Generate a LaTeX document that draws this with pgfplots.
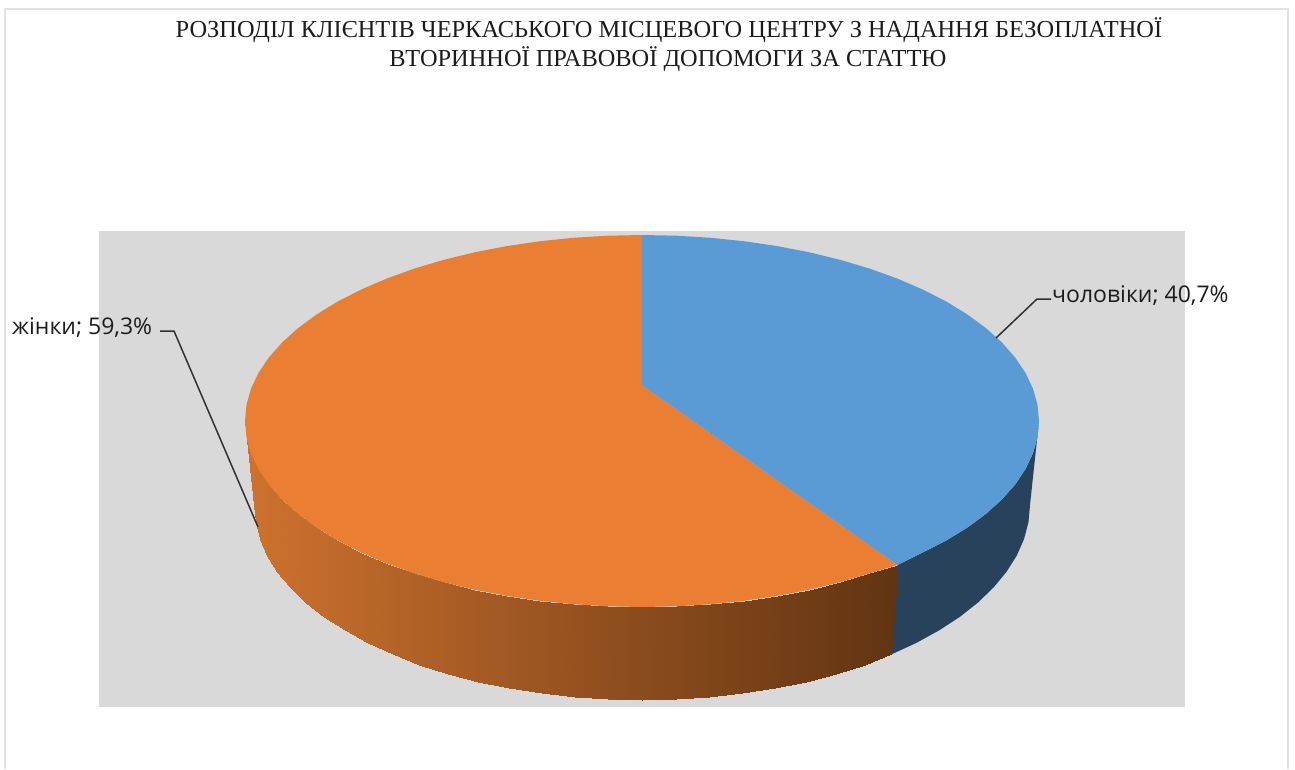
\documentclass[border=0pt]{standalone}
\usepackage{fontspec}
\setmainfont{Liberation Serif}
\newfontfamily\labelfont{Open Sans}
\usepackage{pgfplots}
\pgfplotsset{compat=1.18}
\definecolor{panel}{HTML}{D9D9D9}
\definecolor{blueTop}{HTML}{5B9BD5}
\definecolor{blueSide}{HTML}{27425A}
\definecolor{orangeTop}{HTML}{EA7F33}
\definecolor{frameGrey}{HTML}{E2E2E2}
\definecolor{leader}{HTML}{303030}
\definecolor{ink}{HTML}{1C1C1C}
\begin{document}
\begin{tikzpicture}
\path[use as bounding box] (0,0) rectangle (1295pt,769pt);
\begin{axis}[
	at={(0,0)}, anchor=south west,
	scale only axis,
	width=1295pt, height=769pt,
	xmin=0, xmax=1295,
	ymin=0, ymax=769,
	y dir=reverse,
	hide axis,
	clip=false,
	colormap={sideorange}{rgb255=(206,114,46); rgb255=(150,82,32); rgb255=(97,52,18)},
]
% frame and grey panel
\addplot[draw=frameGrey, line width=2pt] coordinates {(5,769) (5,9) (1288,9) (1288,769)};
\addplot[fill=panel, draw=none] coordinates {(99,231) (1185,231) (1185,707) (99,707)} --cycle;

% blue side wall
\addplot[fill=blueSide, draw=none] coordinates {
	(1039,421) (1037.5,437.2) (1033,453.3) (1025.5,469.1) (1015.1,484.6) (1001.8,499.6)
	(985.8,514) (967.2,527.7) (946.1,540.6) (922.7,552.5) (897.5,565)
	(891.4,654.4) (916.4,642.9) (939.2,630.3) (959.8,616.9) (978,602.5) (993.6,587.4)
	(1006.6,571.7) (1016.8,555.5) (1024.1,538.9) (1028.5,522) (1030,505)
} --cycle;

% orange side wall, one patch per 5 degrees
\addplot[patch, patch type=rectangle, shader=interp, point meta=x, point meta min=245, point meta max=897] coordinates {
	(245,421) (246.5,437.2) (255.5,522) (254,505)
	(246.5,437.2) (251,453.3) (259.9,538.9) (255.5,522)
	(251,453.3) (258.5,469.1) (267.2,555.5) (259.9,538.9)
	(258.5,469.1) (268.9,484.6) (277.4,571.7) (267.2,555.5)
	(268.9,484.6) (282.2,499.6) (290.4,587.4) (277.4,571.7)
	(282.2,499.6) (298.2,514) (306,602.5) (290.4,587.4)
	(298.2,514) (316.8,527.7) (324.2,616.9) (306,602.5)
	(316.8,527.7) (337.9,540.6) (344.8,630.3) (324.2,616.9)
	(337.9,540.6) (361.3,552.5) (367.6,642.9) (344.8,630.3)
	(361.3,552.5) (386.8,563.5) (392.6,654.4) (367.6,642.9)
	(386.8,563.5) (414.3,573.4) (419.4,664.7) (392.6,654.4)
	(414.3,573.4) (443.5,582.1) (448,673.9) (419.4,664.7)
	(443.5,582.1) (474.2,589.6) (478,681.7) (448,673.9)
	(474.2,589.6) (506.2,595.8) (509.3,688.2) (478,681.7)
	(506.2,595.8) (539.3,600.7) (541.6,693.4) (509.3,688.2)
	(539.3,600.7) (573.1,604.2) (574.6,697) (541.6,693.4)
	(573.1,604.2) (607.4,606.3) (608.2,699.3) (574.6,697)
	(607.4,606.3) (642,607) (642,700) (608.2,699.3)
	(642,607) (676.6,606.3) (675.8,699.3) (642,700)
	(676.6,606.3) (710.9,604.2) (709.4,697) (675.8,699.3)
	(710.9,604.2) (744.7,600.7) (742.4,693.4) (709.4,697)
	(744.7,600.7) (777.8,595.8) (774.7,688.2) (742.4,693.4)
	(777.8,595.8) (809.8,589.6) (806,681.7) (774.7,688.2)
	(809.8,589.6) (840.5,582.1) (836,673.9) (806,681.7)
	(840.5,582.1) (869.7,573.4) (864.6,664.7) (836,673.9)
	(869.7,573.4) (897.5,565) (891.4,654.4) (864.6,664.7)
};

% top face: жінки 59,3
\addplot[fill=orangeTop, draw=none] coordinates {
	(642,385) (642,235) (607.4,235.7) (573.1,237.8) (539.3,241.3) (506.2,246.2) (474.2,252.4)
	(443.5,259.9) (414.3,268.6) (386.8,278.5) (361.3,289.5) (337.9,301.4) (316.8,314.3)
	(298.2,328) (282.2,342.4) (268.9,357.4) (258.5,372.9) (251,388.7) (246.5,404.8) (245,421)
	(246.5,437.2) (251,453.3) (258.5,469.1) (268.9,484.6) (282.2,499.6) (298.2,514)
	(316.8,527.7) (337.9,540.6) (361.3,552.5) (386.8,563.5) (414.3,573.4) (443.5,582.1)
	(474.2,589.6) (506.2,595.8) (539.3,600.7) (573.1,604.2) (607.4,606.3) (642,607)
	(676.6,606.3) (710.9,604.2) (744.7,600.7) (777.8,595.8) (809.8,589.6) (840.5,582.1)
	(869.7,573.4) (897.5,565)
} --cycle;
% top face: чоловіки 40,7
\addplot[fill=blueTop, draw=none] coordinates {
	(642,385) (642,235) (676.6,235.7) (710.9,237.8) (744.7,241.3) (777.8,246.2) (809.8,252.4)
	(840.5,259.9) (869.7,268.6) (897.2,278.5) (922.7,289.5) (946.1,301.4) (967.2,314.3)
	(985.8,328) (1001.8,342.4) (1015.1,357.4) (1025.5,372.9) (1033,388.7) (1037.5,404.8)
	(1039,421) (1037.5,437.2) (1033,453.3) (1025.5,469.1) (1015.1,484.6) (1001.8,499.6)
	(985.8,514) (967.2,527.7) (946.1,540.6) (922.7,552.5) (897.5,565)
} --cycle;

% leader lines
\addplot[draw=leader, line width=1.5pt] coordinates {(160,331) (174,331) (258,527)};
\addplot[draw=leader, line width=1.5pt] coordinates {(996,338) (1037,299) (1051,299)};

% labels
\node[anchor=base west, inner sep=0pt, text=ink] at (axis cs:1052,302) {\labelfont\fontsize{23}{27}\selectfont чоловіки; 40,7\%};
\node[anchor=base west, inner sep=0pt, text=ink] at (axis cs:12,334) {\labelfont\fontsize{23}{27}\selectfont жінки; 59,3\%};

% title
\node[anchor=base, inner sep=0pt, text=ink] at (axis cs:669,37) {\fontsize{24.4}{29}\selectfont РОЗПОДІЛ КЛІЄНТІВ ЧЕРКАСЬКОГО МІСЦЕВОГО ЦЕНТРУ З НАДАННЯ БЕЗОПЛАТНОЇ};
\node[anchor=base, inner sep=0pt, text=ink] at (axis cs:668,66) {\fontsize{24.4}{29}\selectfont ВТОРИННОЇ ПРАВОВОЇ ДОПОМОГИ ЗА СТАТТЮ};
\end{axis}
\end{tikzpicture}
\end{document}
